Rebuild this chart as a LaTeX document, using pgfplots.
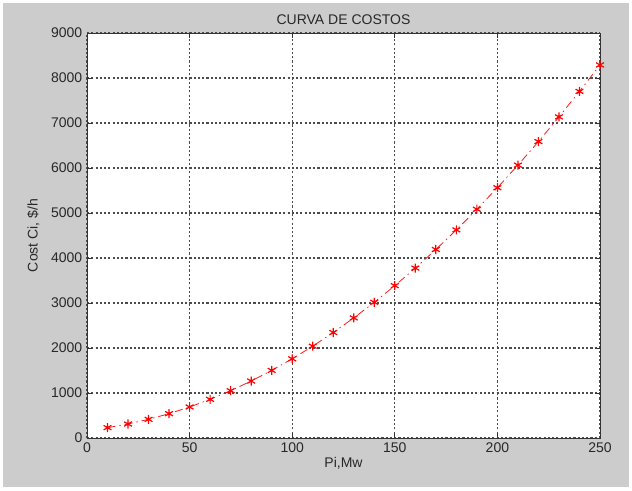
\documentclass[border=0pt]{standalone}
\usepackage{fontspec}
\setmainfont{Liberation Sans}
\usepackage{pgfplots}
\pgfplotsset{compat=1.18}
\definecolor{figgray}{RGB}{204,204,204}
\definecolor{labgray}{RGB}{40,40,40}

\begin{document}
\begin{tikzpicture}[font=\fontsize{10.5}{12}\selectfont, x=0.75pt, y=0.75pt]
% figure background (MATLAB style), 632 x 490 px
\fill[white] (0,0) rectangle (632,490);
\fill[figgray] (3,3) rectangle (629,487);
\begin{axis}[
    at={(87*0.75pt,52*0.75pt)}, anchor=south west,
    scale only axis,
    width=513*0.75pt, height=405*0.75pt,
    xmin=0, xmax=250, ymin=0, ymax=9000,
    xtick={0,50,...,250},
    ytick={0,1000,...,9000},
    axis background/.style={fill=white},
    axis line style={black!80},
    grid=major,
    major grid style={black!70, line width=0.8pt, dash pattern=on 1.6pt off 1.6pt},
    tick style={black!80, line width=0.5pt},
    major tick length=4pt,
    tick align=inside,
    scaled ticks=false,
    /pgf/number format/assume math mode=true,
    /pgf/number format/set thousands separator={},
    ticklabel style={text=labgray},
    title={CURVA DE COSTOS},
    title style={text=labgray, yshift=-3pt},
    xlabel={Pi,Mw},
    ylabel={Cost Ci, \$/h},
    label style={text=labgray},
    xlabel style={yshift=3pt},
    ylabel style={yshift=2pt},
]
\addplot[red!90, line width=0.6pt, dash pattern=on 6pt off 3pt on 1pt off 3pt,
    mark=asterisk, mark size=3.4pt, mark options={solid, red, line width=0.9pt}]
coordinates {
    (10,230) (20,311) (30,415) (40,541) (50,689)
    (60,859) (70,1051) (80,1266) (90,1502) (100,1760)
    (110,2041) (120,2344) (130,2669) (140,3016) (150,3385)
    (160,3776) (170,4189) (180,4625) (190,5083) (200,5562)
    (210,6064) (220,6588) (230,7135) (240,7703) (250,8290)
};
\end{axis}
\end{tikzpicture}
\end{document}
